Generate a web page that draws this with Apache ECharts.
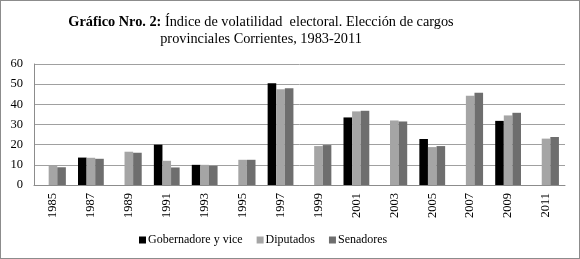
<!DOCTYPE html>
<html>
<head>
<meta charset="utf-8">
<script src="https://cdn.jsdelivr.net/npm/echarts@6/dist/echarts.min.js"></script>
<style>
  html, body { margin: 0; padding: 0; background: #fff; }
  #chart { width: 578px; height: 257px; border: 1px solid #8c8c8c; }
</style>
</head>
<body>
<div id="chart"></div>
<script>
var years = ['1985', '1987', '1989', '1991', '1993', '1995', '1997', '1999', '2001', '2003', '2005', '2007', '2009', '2011'];
var gobernador = [null, 13.6, null, 20.0, 10.0, null, 50.5, null, 33.5, null, 22.8, null, 31.8, null];
var diputados = [9.5, 13.5, 16.5, 12.0, 10.0, 12.5, 47.5, 19.3, 36.5, 32.0, 18.8, 44.2, 34.5, 23.0];
var senadores = [8.8, 13.0, 16.0, 8.7, 9.5, 12.5, 48.0, 19.8, 36.8, 31.5, 19.3, 45.8, 35.8, 23.8];

var serif = '"Liberation Serif", "DejaVu Serif", serif';

var chart = echarts.init(document.getElementById('chart'));

chart.setOption({
  animation: false,
  textStyle: { fontFamily: serif },
  // titulo como texto grafico para poder centrarlo en x=260
  graphic: [{
    type: 'text',
    x: 260,
    y: 13,
    style: {
      text: '{b|Gráfico Nro. 2:} Índice de volatilidad  electoral. Elección de cargos\nprovinciales Corrientes, 1983-2011',
      align: 'center',
      verticalAlign: 'top',
      font: '14.3px ' + serif,
      fill: '#000',
      lineHeight: 17,
      rich: {
        b: { fontFamily: serif, fontSize: 14.3, fontWeight: 'bold', fill: '#000', lineHeight: 17 }
      }
    }
  }],
  legend: {
    bottom: 12,
    left: 138,
    padding: 0,
    itemWidth: 7,
    itemHeight: 7,
    itemGap: 14,
    icon: 'rect',
    textStyle: { fontFamily: serif, fontSize: 12, color: '#000', padding: [0, 0, 0, -3] },
    data: ['Gobernadore y vice', 'Diputados', 'Senadores']
  },
  grid: { left: 33, right: 14, top: 63, bottom: 73, containLabel: false },
  xAxis: {
    type: 'category',
    data: years,
    axisLine: { lineStyle: { color: '#8c8c8c' } },
    axisTick: { show: false },
    axisLabel: {
      rotate: 90, color: '#000', fontSize: 12.5, fontFamily: serif, margin: 8,
      verticalAlign: 'middle', padding: [0, 0, 10, 0]
    }
  },
  yAxis: {
    type: 'value',
    min: 0,
    max: 60,
    interval: 10,
    axisLine: { show: true, lineStyle: { color: '#8c8c8c' } },
    axisTick: { show: false },
    axisLabel: { color: '#000', fontSize: 12.5, fontFamily: serif, margin: 11 },
    splitLine: { lineStyle: { color: '#a0a0a0' } }
  },
  series: [
    {
      name: 'Gobernadore y vice', type: 'bar', data: gobernador,
      barGap: '0%', barCategoryGap: '32%',
      itemStyle: { color: '#000000' }
    },
    {
      name: 'Diputados', type: 'bar', data: diputados,
      barGap: '0%', barCategoryGap: '32%',
      itemStyle: { color: '#a5a5a5' }
    },
    {
      name: 'Senadores', type: 'bar', data: senadores,
      barGap: '0%', barCategoryGap: '32%',
      itemStyle: { color: '#6e6e6e' }
    }
  ]
});
</script>
</body>
</html>
